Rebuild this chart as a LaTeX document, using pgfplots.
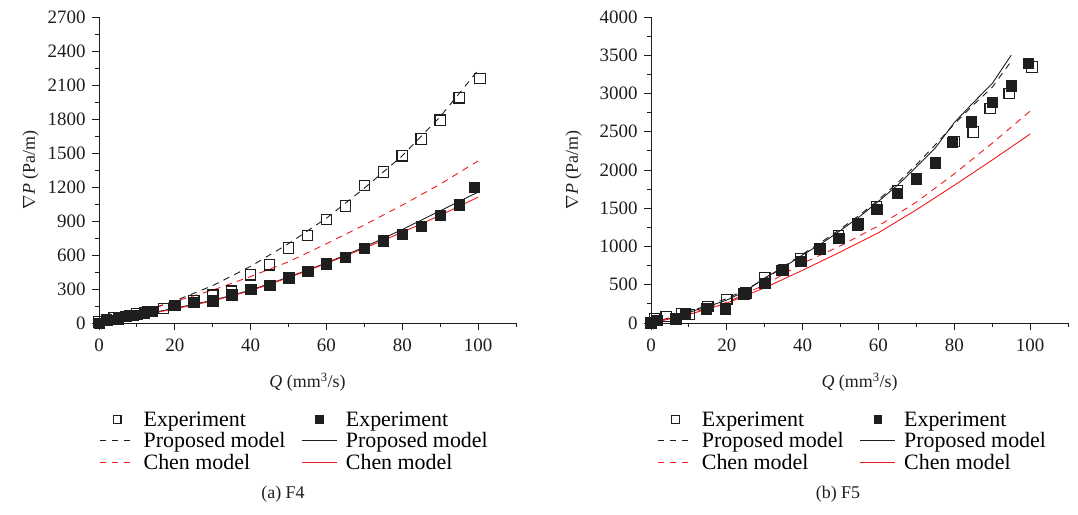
\documentclass[border=0pt]{standalone}
\usepackage{fontspec}
\setmainfont{Liberation Serif}
\usepackage{pgfplots}
\pgfplotsset{compat=1.18}
\definecolor{cred}{RGB}{240,25,30}
\definecolor{cblk}{RGB}{30,30,30}
\pgfplotsset{
  common/.style={
    scale only axis, axis lines=left,
    axis line style={-, cblk, line width=0.9bp},
    tick align=outside, major tick length=7bp, minor tick length=4bp,
    every tick/.style={cblk, line width=0.9bp},
    xmin=0, xmax=110, xtick={0,20,...,100}, minor xtick={10,30,...,110},
    tick label style={font=\fontsize{19}{22}\selectfont, text=cblk},
    yticklabel style={xshift=-3bp},
    xticklabel style={yshift=-5bp},
    label style={font=\fontsize{18}{21}\selectfont, text=cblk},
    xlabel style={yshift=-15bp},
    /pgf/number format/assume math mode=true,
    /pgf/number format/1000 sep={},
    xlabel={\textit{Q} (mm\textsuperscript{3}/s)},
    ylabel={$\nabla$\textit{P} (Pa/m)},
    clip=false,
    legend columns=2,
    legend cell align=left,
    legend style={draw=none, fill=none, font=\fontsize{22}{24}\selectfont,
      anchor=north west, row sep=1bp, inner sep=0bp,
      /tikz/every even column/.append style={column sep=14bp}},
  },
  mline/.style={legend image code/.code={%
    \draw[##1] (0bp,0bp) -- (35bp,0bp);
    \path[draw=none, fill=none] (0bp,0bp) -- (42bp,0bp);}},
  mmark/.style={legend image code/.code={%
    \draw[##1, mark size=3.8bp] plot coordinates {(17.5bp,0bp)};
    \path[draw=none, fill=none] (0bp,0bp) -- (42bp,0bp);}},
  openm/.style={only marks, mmark, mark=square, mark size=5.2bp,
    mark options={solid, draw=cblk, fill=white, line width=1.2bp}},
  fullm/.style={only marks, mmark, mark=square*, mark size=5.2bp,
    mark options={solid, draw=cblk, fill=cblk}},
  dline/.style={mline, no marks, line width=0.9bp, dash pattern=on 6.5bp off 5.5bp},
  sline/.style={mline, no marks, line width=0.9bp},
}
\begin{document}
\begin{tikzpicture}
\useasboundingbox (0,0) rectangle (1078bp,-515bp);

% (a) F4
\begin{axis}[common, at={(99bp,-323bp)}, anchor=south west,
    width=417bp, height=306bp,
    ymin=0, ymax=2700, ytick={0,300,...,2700}, minor ytick={150,450,...,2550},
    ylabel style={yshift=2bp},
    legend style={at={(axis description cs:0,-0.282)}}]
\addplot[openm] coordinates {
 (0,10)(2,30)(4,45)(8,65)(10,82)(13,100)(17,128)(25,200)(30,245)(35,280)
 (40,426)(45,514)(50,661)(55,773)(60,915)(65,1033)(70,1215)(75,1332)
 (80,1476)(85,1623)(90,1790)(95,1987)(100.5,2157)};
\addplot[fullm] coordinates {
 (0,0)(2,25)(5,38)(7,60)(9,70)(12,90)(14,103)(20,155)(25,182)(30,197)
 (35,250)(40,300)(45,335)(50,400)(55,455)(60,523)(65,579)(70,662)(75,726)
 (80,785)(85,853)(90,953)(95,1044)(99,1200)};
\addplot[dline, color=cblk] coordinates {
 (0,0)(10,85)(20,195)(30,330)(40,500)(50,700)(60,925)(70,1190)(80,1475)(90,1820)(100,2230)};
\addplot[sline, color=cblk] coordinates {
 (0,0)(10,65)(20,130)(30,200)(40,290)(50,405)(60,530)(70,670)(80,825)(90,990)(100,1155)};
\addplot[dline, color=cred] coordinates {
 (0,0)(10,85)(20,190)(30,290)(40,410)(50,540)(60,700)(70,865)(80,1040)(90,1225)(100,1430)};
\addplot[sline, color=cred] coordinates {
 (0,0)(10,60)(20,125)(30,195)(40,285)(50,400)(60,525)(70,660)(80,800)(90,950)(100,1110)};
\legend{Experiment,Experiment,Proposed model,Proposed model,Chen model,Chen model}
\end{axis}

% (b) F5
\begin{axis}[common, at={(651bp,-323bp)}, anchor=south west,
    width=417bp, height=306bp,
    ymin=0, ymax=4000, ytick={0,500,...,4000}, minor ytick={250,750,...,3750},
    ylabel style={yshift=11bp},
    legend style={at={(axis description cs:0.015,-0.282)}}]
\addplot[openm] coordinates {
 (0,0)(1,57)(4,87)(8,122)(10,113)(15,218)(20,305)(25,392)(30,593)(35,690)
 (39.5,841)(44.5,959)(49.5,1146)(54.5,1277)(59.5,1516)(65,1734)(70,1887)
 (75,2091)(80,2370)(85,2497)(89.5,2802)(94.5,2998)(100.5,3346)};
\addplot[fullm] coordinates {
 (0,0)(1.5,35)(6.5,57)(9,122)(14.5,187)(19.5,187)(24.5,383)(30,523)(34.5,688)
 (39.5,810)(44.5,972)(49.5,1111)(54.5,1298)(59.5,1486)(65,1699)(70,1887)
 (75,2091)(79.5,2366)(84.5,2630)(90,2890)(95,3100)(99.5,3395)};
\addplot[dline, color=cblk] coordinates {
 (0,0)(5,70)(10,150)(15,230)(20,320)(25,440)(30,570)(35,740)(40,900)(45,1060)
 (50,1230)(55,1410)(60,1610)(65,1830)(70,2070)(75,2330)(80,2600)(85,2850)(90,3080)(95,3420)};
\addplot[sline, color=cblk] coordinates {
 (0,0)(5,60)(10,140)(15,215)(20,300)(25,420)(30,590)(35,730)(40,890)(45,1040)
 (50,1210)(55,1390)(60,1590)(65,1800)(70,2040)(75,2290)(80,2620)(85,2880)(90,3130)(95,3500)};
\addplot[dline, color=cred] coordinates {
 (0,0)(10,120)(20,270)(30,500)(40,780)(50,1010)(60,1270)(70,1580)(80,1950)(90,2350)(100,2770)};
\addplot[sline, color=cred] coordinates {
 (0,0)(10,110)(20,260)(30,460)(40,690)(50,930)(60,1180)(70,1480)(80,1800)(90,2130)(100,2470)};
\legend{Experiment,Experiment,Proposed model,Proposed model,Chen model,Chen model}
\end{axis}

\node[font=\fontsize{18}{21}\selectfont, text=cblk] at (283bp,-494bp) {(a) F4};
\node[font=\fontsize{18}{21}\selectfont, text=cblk] at (838bp,-494bp) {(b) F5};
\end{tikzpicture}
\end{document}
